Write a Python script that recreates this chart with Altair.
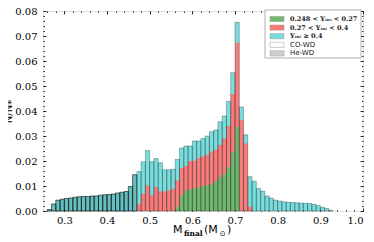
import altair as alt
import pandas as pd

BIN = 0.01

# total stacked height (top of cyan), bins 0.26 .. 0.92
total_start = 0.26
total = [0.0006, 0.0028, 0.0043, 0.0047, 0.0050, 0.0052, 0.0055, 0.0057, 0.0058, 0.0058,
         0.0060, 0.0060, 0.0063, 0.0065, 0.0066, 0.0068, 0.0072, 0.0075, 0.0078, 0.0098,
         0.0145, 0.0158, 0.0197, 0.0242, 0.0197, 0.0210, 0.0193, 0.0165, 0.0165, 0.0167,
         0.0207, 0.0252, 0.0260, 0.0260, 0.0280, 0.0280, 0.0290, 0.0300, 0.0317, 0.0324,
         0.0357, 0.0380, 0.0438, 0.0553, 0.0755, 0.0416, 0.0305, 0.0137, 0.0119, 0.0090,
         0.0080, 0.0060, 0.0052, 0.0044, 0.0040, 0.0037, 0.0035, 0.0034, 0.0033, 0.0032,
         0.0031, 0.0030, 0.0027, 0.0022, 0.0015, 0.0010, 0.0003]

# top of red part (0.27 < Y < 0.4 stacked on green), bins 0.47 .. 0.73
red_start = 0.47
red_top = [0.0027, 0.0069, 0.0102, 0.0063, 0.0095, 0.0078, 0.0078, 0.0082, 0.0089, 0.0122,
           0.0172, 0.0180, 0.0200, 0.0201, 0.0212, 0.0218, 0.0225, 0.0238, 0.0245, 0.0264,
           0.0290, 0.0340, 0.0468, 0.0673, 0.0365, 0.0270, 0.0017]

# green part, bins 0.56 .. 0.70
green_start = 0.56
green_top = [0.0017, 0.0063, 0.0082, 0.0086, 0.0090, 0.0094, 0.0099, 0.0104, 0.0107, 0.0120,
             0.0136, 0.0149, 0.0175, 0.0235, 0.0337]

# He-WD histogram, bins 0.26 .. 0.46
he_start = 0.26
he_wd = [0.0006, 0.0028, 0.0043, 0.0047, 0.0050, 0.0052, 0.0055, 0.0057, 0.0058, 0.0058,
         0.0060, 0.0060, 0.0063, 0.0065, 0.0066, 0.0068, 0.0072, 0.0075, 0.0078, 0.0098,
         0.0145]

x_major = [0.3, 0.4, 0.5, 0.6, 0.7, 0.8, 0.9, 1.0]
x_minor = [round(0.26 + 0.02 * i, 2) for i in range(37)]
y_major = [0.0, 0.01, 0.02, 0.03, 0.04, 0.05, 0.06, 0.07, 0.08]
y_minor = [round(0.002 * i, 3) for i in range(41)]

legend_labels = ["0.248 < Yᵢₙᵢ < 0.27", "0.27 < Yᵢₙᵢ < 0.4", "Yᵢₙᵢ ≥ 0.4", "CO-WD", "He-WD"]
legend_fill = ["#6fb86f", "#fb7b7b", "#77dddd", "#ffffff", "#cfcfcf"]

C_GREEN, C_RED, C_CYAN = legend_fill[0], legend_fill[1], legend_fill[2]


def frame(start, vals):
    s = [round(start + i * BIN, 2) for i in range(len(vals))]
    return pd.DataFrame({"start": s, "end": [round(v + BIN, 2) for v in s], "v": vals})


xs = alt.Scale(domain=[0.25, 1.0], nice=False, zero=False)
ys = alt.Scale(domain=[0, 0.08], nice=False)

common = dict(grid=False, domain=False, tickColor="black", tickWidth=0.8)


def xaxis(orient, major):
    if major:
        return alt.Axis(orient=orient, values=x_major, format=".1f", tickSize=3, offset=-3,
                        labels=(orient == "bottom"), labelPadding=4, labelFont="DejaVu Serif",
                        labelFontSize=10, labelColor="black", title=None, **common)
    return alt.Axis(orient=orient, values=x_minor, tickSize=1.5, offset=-1.5, labels=False,
                    title=None, **common)


def yaxis(orient, major):
    if major:
        kw = dict(title="N/N⁎", titleFont="DejaVu Sans", titleFontSize=10, titleFontWeight="normal",
                  titleColor="black", titlePadding=1) if orient == "left" else dict(title=None)
        return alt.Axis(orient=orient, values=y_major, format=".2f", tickSize=3, offset=-3,
                        labels=(orient == "left"), labelPadding=6, labelFont="DejaVu Serif",
                        labelFontSize=10, labelColor="black", **kw, **common)
    return alt.Axis(orient=orient, values=y_minor, tickSize=1.5, offset=-1.5, labels=False,
                    title=None, **common)


def bars(df, color, xa, ya, **mk):
    return alt.Chart(df).mark_rect(color=color, **mk).encode(
        x=alt.X("start:Q", scale=xs, axis=xa),
        x2="end:Q",
        y=alt.Y("v:Q", scale=ys, axis=ya),
        y2=alt.datum(0),
    )


cyan = bars(frame(total_start, total), C_CYAN, xaxis("bottom", True), yaxis("left", True))
red = bars(frame(red_start, red_top), C_RED, xaxis("top", True), yaxis("right", True))
green = bars(frame(green_start, green_top), C_GREEN, xaxis("bottom", False), yaxis("left", False))
outline = alt.Chart(frame(total_start, total)).mark_rect(
    fillOpacity=0, stroke="black", strokeOpacity=0.45, strokeWidth=0.6
).encode(
    x=alt.X("start:Q", scale=xs, axis=xaxis("top", False)),
    x2="end:Q",
    y=alt.Y("v:Q", scale=ys, axis=yaxis("right", False)),
    y2=alt.datum(0),
)
he = alt.Chart(frame(he_start, he_wd)).mark_rect(
    fill="black", fillOpacity=0.13, stroke="black", strokeOpacity=0.6, strokeWidth=0.6
).encode(
    x=alt.X("start:Q", scale=xs, axis=None),
    x2="end:Q",
    y=alt.Y("v:Q", scale=ys, axis=None),
    y2=alt.datum(0),
)

# legend
one = pd.DataFrame({"a": [0]})
leg_box = alt.Chart(one).mark_rect(fill="white", stroke="#9a9a9a", strokeWidth=0.8).encode(
    x=alt.value(222), x2=alt.value(318), y=alt.value(-1), y2=alt.value(47)
)
leg_df = pd.DataFrame({"label": legend_labels, "fill": legend_fill, "i": list(range(5))})
leg_base = alt.Chart(leg_df).transform_calculate(
    py="8 + 8.6 * datum.i", py0="8 + 8.6 * datum.i - 2.6", py1="8 + 8.6 * datum.i + 2.6"
)
leg_sw = leg_base.mark_rect(stroke="#9a9a9a", strokeWidth=0.5).encode(
    x=alt.value(227), x2=alt.value(241),
    y=alt.Y("py0:Q", scale=None, axis=None), y2="py1:Q",
    fill=alt.Fill("fill:N", scale=None, legend=None),
)
leg_txt_math = leg_base.transform_filter("datum.i < 3").mark_text(
    align="left", baseline="middle", font="DejaVu Serif", fontSize=6.5, fontWeight="bold", color="#222"
).encode(x=alt.value(247), y=alt.Y("py:Q", scale=None, axis=None), text="label:N")
leg_txt_sans = leg_base.transform_filter("datum.i >= 3").mark_text(
    align="left", baseline="middle", font="DejaVu Sans", fontSize=7, color="#222"
).encode(x=alt.value(247), y=alt.Y("py:Q", scale=None, axis=None), text="label:N")

# x-axis title with subscripts
def txt(s, x, y, size, font="DejaVu Sans", weight="normal"):
    return alt.Chart(one).mark_text(text=s, align="left", baseline="alphabetic", font=font,
                                    fontSize=size, fontWeight=weight, color="black").encode(
        x=alt.value(x), y=alt.value(y))

xt = [
    txt("M", 130, 222, 11),
    txt("final", 141, 225, 7.5, font="DejaVu Serif", weight="bold"),
    txt("(M", 161, 222, 11),
    txt("⊙", 176.5, 225, 7.5),
    txt(")", 184, 222, 11),
]

chart = alt.layer(
    cyan, red, green, outline, he, leg_box, leg_sw, leg_txt_math, leg_txt_sans, *xt
).resolve_axis(x="independent", y="independent").properties(
    width=320, height=200,
    padding={"left": 35, "top": 3, "right": 3, "bottom": 31},
    autosize=alt.AutoSizeParams(type="none"),
).configure_view(stroke="black", strokeWidth=0.8).configure(background="white")

chart.save("out.html", embed_options={"renderer": "svg", "actions": False})
